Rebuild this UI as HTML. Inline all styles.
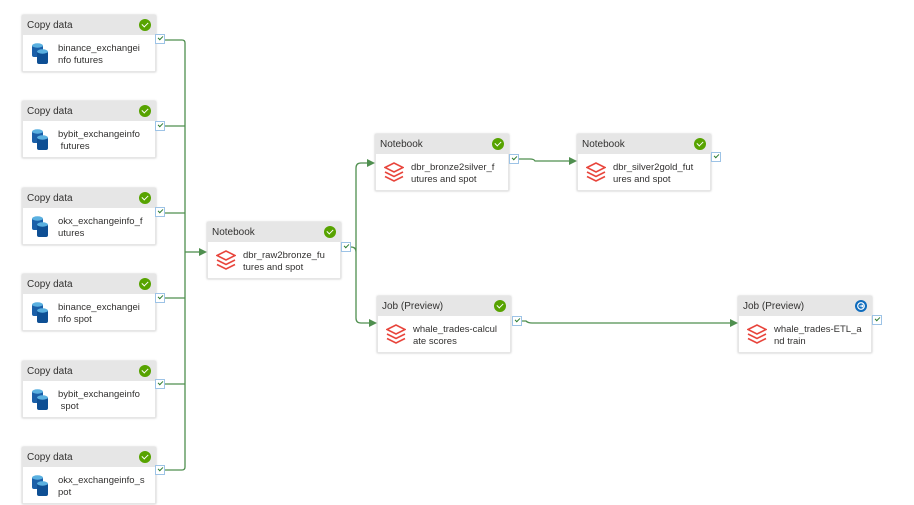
<!DOCTYPE html>
<html><head><meta charset="utf-8">
<style>
html,body{margin:0;padding:0;background:#fff;}
body{width:914px;height:505px;position:relative;overflow:hidden;font-family:"Liberation Sans",sans-serif;}
.box{position:absolute;width:134px;height:57px;background:#fff;box-shadow:0 0 2px rgba(0,0,0,.25);border:1px solid #e6e6e6;box-sizing:border-box;}
.hd{height:19px;background:#e6e6e6;font-size:10px;color:#323130;line-height:20px;padding-left:4px;position:relative;}
.ok{position:absolute;right:4px;top:3px;width:12px;height:12px;border-radius:50%;background:#57a300;}
.ok:after{content:"";position:absolute;left:3px;top:2.5px;width:5px;height:3px;border-left:1.6px solid #fff;border-bottom:1.6px solid #fff;transform:rotate(-45deg);}
.run{background:#0f6cbd;}
.run:after{display:none}
.txt{position:absolute;left:35px;top:27px;font-size:9.5px;line-height:11.5px;color:#323130;}
.ic{position:absolute;left:8px;top:24px;}
.cb{position:absolute;width:8px;height:8px;border:1px solid #9dc3e6;background:#fff;}
.cb:after{content:"";position:absolute;left:2px;top:1px;width:4px;height:2px;border-left:1.3px solid #2e7d32;border-bottom:1.3px solid #2e7d32;transform:rotate(-45deg);}
</style></head><body>
<svg width="914" height="505" style="position:absolute;left:0;top:0">
<g fill="none" stroke="#4f8f4f" stroke-width="1.3">
<path d="M164 40 H182 Q185 40 185 43 V467 Q185 470 182 470 H164"/>
<path d="M164 126 H185 M164 213 H185 M164 298 H185 M164 384 H185"/>
<path d="M185 252 H200"/>
<path d="M351 247 Q356 247 356 252 V168 Q356 163 361 163 H368"/>
<path d="M356 252 V318 Q356 323 361 323 H370"/>
<path d="M519 159 H530 Q534 159 535 161 H570"/>
<path d="M522 321 H526 Q528 323 532 323 H731"/>
</g>
<g fill="#4f8f4f">
<path d="M207 252 L199 248 L199 256Z"/>
<path d="M375 163 L367 159 L367 167Z"/>
<path d="M377 323 L369 319 L369 327Z"/>
<path d="M577 161 L569 157 L569 165Z"/>
<path d="M738 323 L730 319 L730 327Z"/>
</g>
</svg>

<div class="box" style="left:22px;top:15px"><div class="hd">Copy data<span class="ok"></span></div><svg class="ic" width="19" height="24" style="top:26px"><g><rect x="1" y="3" width="11" height="12" rx="2" fill="#1a5fa8"/><ellipse cx="6.5" cy="3.5" rx="5.5" ry="2.2" fill="#5ab0e0"/><rect x="6" y="9" width="11" height="13" rx="2" fill="#0e4f94"/><ellipse cx="11.5" cy="9.5" rx="5.5" ry="2.2" fill="#5ab0e0"/></g></svg><div class="txt">binance_exchangei<br>nfo futures</div></div>
<div class="box" style="left:22px;top:101px"><div class="hd">Copy data<span class="ok"></span></div><svg class="ic" width="19" height="24" style="top:26px"><g><rect x="1" y="3" width="11" height="12" rx="2" fill="#1a5fa8"/><ellipse cx="6.5" cy="3.5" rx="5.5" ry="2.2" fill="#5ab0e0"/><rect x="6" y="9" width="11" height="13" rx="2" fill="#0e4f94"/><ellipse cx="11.5" cy="9.5" rx="5.5" ry="2.2" fill="#5ab0e0"/></g></svg><div class="txt">bybit_exchangeinfo<br>&nbsp;futures</div></div>
<div class="box" style="left:22px;top:188px"><div class="hd">Copy data<span class="ok"></span></div><svg class="ic" width="19" height="24" style="top:26px"><g><rect x="1" y="3" width="11" height="12" rx="2" fill="#1a5fa8"/><ellipse cx="6.5" cy="3.5" rx="5.5" ry="2.2" fill="#5ab0e0"/><rect x="6" y="9" width="11" height="13" rx="2" fill="#0e4f94"/><ellipse cx="11.5" cy="9.5" rx="5.5" ry="2.2" fill="#5ab0e0"/></g></svg><div class="txt">okx_exchangeinfo_f<br>utures</div></div>
<div class="box" style="left:22px;top:274px"><div class="hd">Copy data<span class="ok"></span></div><svg class="ic" width="19" height="24" style="top:26px"><g><rect x="1" y="3" width="11" height="12" rx="2" fill="#1a5fa8"/><ellipse cx="6.5" cy="3.5" rx="5.5" ry="2.2" fill="#5ab0e0"/><rect x="6" y="9" width="11" height="13" rx="2" fill="#0e4f94"/><ellipse cx="11.5" cy="9.5" rx="5.5" ry="2.2" fill="#5ab0e0"/></g></svg><div class="txt">binance_exchangei<br>nfo spot</div></div>
<div class="box" style="left:22px;top:361px"><div class="hd">Copy data<span class="ok"></span></div><svg class="ic" width="19" height="24" style="top:26px"><g><rect x="1" y="3" width="11" height="12" rx="2" fill="#1a5fa8"/><ellipse cx="6.5" cy="3.5" rx="5.5" ry="2.2" fill="#5ab0e0"/><rect x="6" y="9" width="11" height="13" rx="2" fill="#0e4f94"/><ellipse cx="11.5" cy="9.5" rx="5.5" ry="2.2" fill="#5ab0e0"/></g></svg><div class="txt">bybit_exchangeinfo<br>&nbsp;spot</div></div>
<div class="box" style="left:22px;top:447px"><div class="hd">Copy data<span class="ok"></span></div><svg class="ic" width="19" height="24" style="top:26px"><g><rect x="1" y="3" width="11" height="12" rx="2" fill="#1a5fa8"/><ellipse cx="6.5" cy="3.5" rx="5.5" ry="2.2" fill="#5ab0e0"/><rect x="6" y="9" width="11" height="13" rx="2" fill="#0e4f94"/><ellipse cx="11.5" cy="9.5" rx="5.5" ry="2.2" fill="#5ab0e0"/></g></svg><div class="txt">okx_exchangeinfo_s<br>pot</div></div>

<div class="cb" style="left:155px;top:34px"></div>
<div class="cb" style="left:155px;top:121px"></div>
<div class="cb" style="left:155px;top:207px"></div>
<div class="cb" style="left:155px;top:293px"></div>
<div class="cb" style="left:155px;top:379px"></div>
<div class="cb" style="left:155px;top:465px"></div>

<div class="box" style="left:207px;top:222px"><div class="hd">Notebook<span class="ok"></span></div><svg class="ic" width="20" height="22" style="top:26px"><g fill="none" stroke="#e8453c" stroke-width="1.6"><path d="M1 6.5 L10 2 L19 6.5 L10 11Z"/><path d="M1 11 L10 15.5 L19 11"/><path d="M1 15.5 L10 20 L19 15.5"/></g></svg><div class="txt">dbr_raw2bronze_fu<br>tures and spot</div></div>
<div class="cb" style="left:341px;top:242px"></div>

<div class="box" style="left:375px;top:134px"><div class="hd">Notebook<span class="ok"></span></div><svg class="ic" width="20" height="22" style="top:26px"><g fill="none" stroke="#e8453c" stroke-width="1.6"><path d="M1 6.5 L10 2 L19 6.5 L10 11Z"/><path d="M1 11 L10 15.5 L19 11"/><path d="M1 15.5 L10 20 L19 15.5"/></g></svg><div class="txt">dbr_bronze2silver_f<br>utures and spot</div></div>
<div class="cb" style="left:509px;top:154px"></div>

<div class="box" style="left:577px;top:134px"><div class="hd">Notebook<span class="ok"></span></div><svg class="ic" width="20" height="22" style="top:26px"><g fill="none" stroke="#e8453c" stroke-width="1.6"><path d="M1 6.5 L10 2 L19 6.5 L10 11Z"/><path d="M1 11 L10 15.5 L19 11"/><path d="M1 15.5 L10 20 L19 15.5"/></g></svg><div class="txt">dbr_silver2gold_fut<br>ures and spot</div></div>
<div class="cb" style="left:711px;top:152px"></div>

<div class="box" style="left:377px;top:296px"><div class="hd">Job (Preview)<span class="ok"></span></div><svg class="ic" width="20" height="22" style="top:26px"><g fill="none" stroke="#e8453c" stroke-width="1.6"><path d="M1 6.5 L10 2 L19 6.5 L10 11Z"/><path d="M1 11 L10 15.5 L19 11"/><path d="M1 15.5 L10 20 L19 15.5"/></g></svg><div class="txt">whale_trades-calcul<br>ate scores</div></div>
<div class="cb" style="left:512px;top:316px"></div>

<div class="box" style="left:738px;top:296px"><div class="hd">Job (Preview)<span class="ok run"><svg width="12" height="12" style="position:absolute;left:0;top:0"><circle cx="6" cy="6" r="3.3" fill="none" stroke="#fff" stroke-width="1.2"/><path d="M4.5 6 H8 M6.8 4.7 L8 6 L6.8 7.3" stroke="#fff" stroke-width="1" fill="none"/></svg></span></div><svg class="ic" width="20" height="22" style="top:26px"><g fill="none" stroke="#e8453c" stroke-width="1.6"><path d="M1 6.5 L10 2 L19 6.5 L10 11Z"/><path d="M1 11 L10 15.5 L19 11"/><path d="M1 15.5 L10 20 L19 15.5"/></g></svg><div class="txt">whale_trades-ETL_a<br>nd train</div></div>
<div class="cb" style="left:872px;top:315px"></div>
</body></html>
